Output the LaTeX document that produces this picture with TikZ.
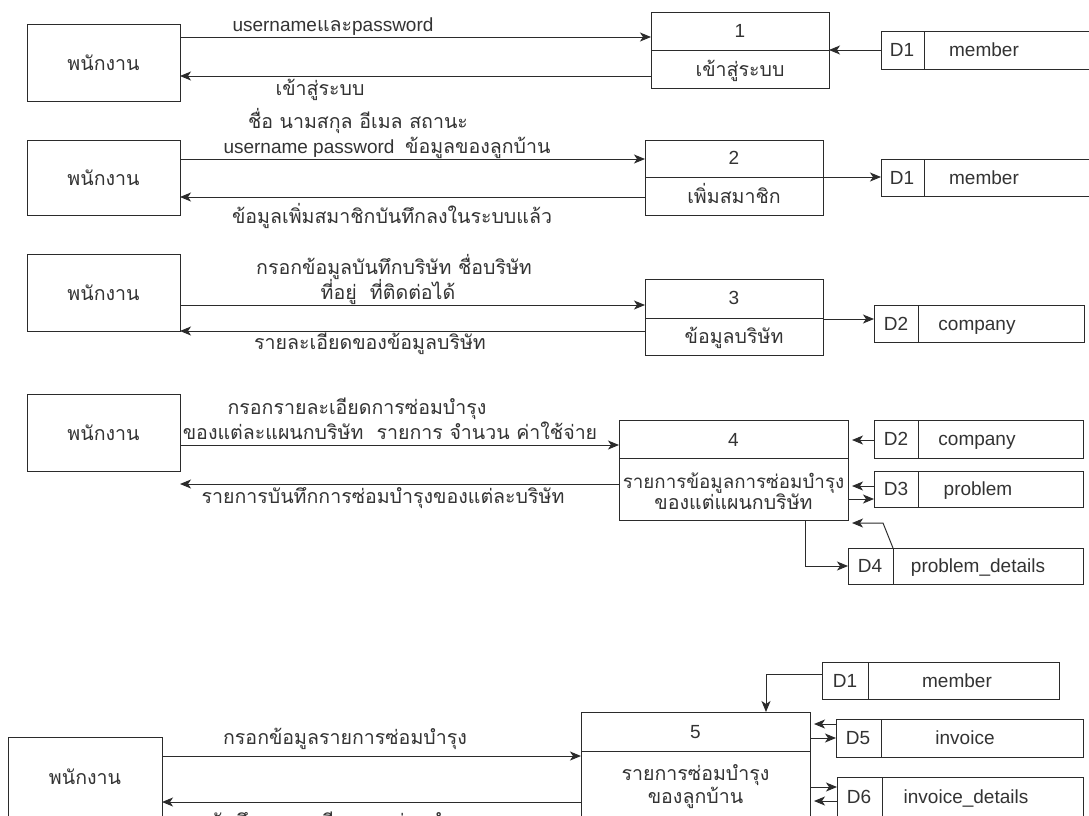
\documentclass[tikz,border=0pt]{standalone}
\usepackage{fontspec}
\setmainfont{Liberation Sans}
\newfontfamily\thf[Script=Thai,Scale=1.03]{Loma}
\usetikzlibrary{arrows.meta}
\definecolor{ln}{HTML}{2B2B2B}
\definecolor{tx}{HTML}{333333}
\tikzset{
  every node/.style={font=\fontsize{19}{23}\selectfont, text=tx, inner sep=0pt, outer sep=0pt},
  lbl/.style={text height=13.6pt, text depth=0pt},
  ent/.style={draw=ln, line width=1pt, minimum width=153pt, minimum height=77pt},
  proc/.style={draw=ln, line width=1pt},
  plain/.style={draw=ln, line width=1pt},
  flow/.style={draw=ln, line width=1pt, -{Stealth[length=11pt,width=9pt,inset=3pt]}},
}
\begin{document}
\begin{tikzpicture}[x=1pt,y=-1pt]
\useasboundingbox (0,0) rectangle (1089,815);
\fill[white] (0,0) rectangle (1089,815);

% ---------------- Section 1
\node[ent] (e1) at (103.5,62.5) {\thf พนักงาน};
\node[proc, minimum width=178pt, minimum height=76pt] (p1) at (740,50) {};
\draw[plain] (p1.west |- 0,50) -- (p1.east |- 0,50);
\node[lbl] (p1n) at (740,31) {1};
\node[lbl] (p1t) at (740,70) {\thf เข้าสู่ระบบ};
\node[proc, minimum width=219pt, minimum height=38pt] (s1) at (990.5,50) {};
\draw[plain] (924,0 |- s1.north) -- (924,0 |- s1.south);
\node[lbl] (s1d) at (902,50) {D1};
\node[lbl] (s1t) at (984,50) {member};
\draw[flow] (e1.east |- 0,37) -- (p1.west |- 0,37);
\draw[flow] (p1.west |- 0,76) -- (e1.east |- 0,76);
\draw[flow] (s1.west) -- (p1.east);
\node[lbl] (l1a) at (333,25) {username{\thf และ}password};
\node[lbl] (l1b) at (320,89) {\thf เข้าสู่ระบบ};

% ---------------- Section 2
\node[ent, minimum height=75pt] (e2) at (103.5,177.5) {\thf พนักงาน};
\node[proc, minimum width=178pt, minimum height=75pt] (p2) at (734,177.5) {};
\draw[plain] (p2.west |- 0,177) -- (p2.east |- 0,177);
\node[lbl] (p2n) at (734,158) {2};
\node[lbl] (p2t) at (734,197) {\thf เพิ่มสมาชิก};
\node[proc, minimum width=219pt, minimum height=37pt] (s2) at (990.5,177.5) {};
\draw[plain] (924,0 |- s2.north) -- (924,0 |- s2.south);
\node[lbl] (s2d) at (902,177.5) {D1};
\node[lbl] (s2t) at (984,177.5) {member};
\draw[flow] (e2.east |- 0,159) -- (p2.west |- 0,159);
\draw[flow] (p2.west |- 0,197) -- (e2.east |- 0,197);
\draw[flow] (p2.east |- 0,177) -- (s2.west |- 0,177);
\node[lbl] (l2a) at (358,122) {\thf ชื่อ นามสกุล อีเมล สถานะ};
\node[lbl] (l2b) at (387,147) {username password\ \ {\thf ข้อมูลของลูกบ้าน}};
\node[lbl] (l2c) at (392,217) {\thf ข้อมูลเพิ่มสมาชิกบันทึกลงในระบบแล้ว};

% ---------------- Section 3
\node[ent] (e3) at (103.5,292.5) {\thf พนักงาน};
\node[proc, minimum width=178pt, minimum height=76pt] (p3) at (734,317) {};
\draw[plain] (p3.west |- 0,318) -- (p3.east |- 0,318);
\node[lbl] (p3n) at (734,298) {3};
\node[lbl] (p3t) at (734,337) {\thf ข้อมูลบริษัท};
\node[proc, minimum width=210pt, minimum height=37pt] (s3) at (979,323.5) {};
\draw[plain] (918,0 |- s3.north) -- (918,0 |- s3.south);
\node[lbl] (s3d) at (896,323.5) {D2};
\node[lbl] (s3t) at (977,323.5) {company};
\draw[flow] (e3.east |- 0,305) -- (p3.west |- 0,305);
\draw[flow] (p3.west |- 0,331) -- (e3.east |- 0,331);
\draw[flow] (p3.east |- 0,319) -- (s3.west |- 0,319);
\node[lbl] (l3a) at (394,268) {\thf กรอกข้อมูลบันทึกบริษัท ชื่อบริษัท};
\node[lbl] (l3b) at (388,293) {\thf ที่อยู่\ \ ที่ติดต่อได้};
\node[lbl] (l3c) at (370,343) {\thf รายละเอียดของข้อมูลบริษัท};

% ---------------- Section 4
\node[ent] (e4) at (103.5,432.5) {\thf พนักงาน};
\node[proc, minimum width=229pt, minimum height=100pt] (p4) at (733.5,470) {};
\draw[plain] (p4.west |- 0,458) -- (p4.east |- 0,458);
\node[lbl] (p4n) at (733.5,440) {4};
\node[lbl, font=\fontsize{18.2}{22}\selectfont] (p4t) at (733.5,482) {\thf รายการข้อมูลการซ่อมบำรุง};
\node[lbl] (p4u) at (733.5,503) {\thf ของแต่แผนกบริษัท};
\node[proc, minimum width=209pt, minimum height=38pt] (s4a) at (978.5,439) {};
\draw[plain] (918,0 |- s4a.north) -- (918,0 |- s4a.south);
\node[lbl] (s4ad) at (896,439) {D2};
\node[lbl] (s4at) at (977,439) {company};
\node[proc, minimum width=209pt, minimum height=36pt] (s4b) at (978.5,489) {};
\draw[plain] (918,0 |- s4b.north) -- (918,0 |- s4b.south);
\node[lbl] (s4bd) at (896,489) {D3};
\node[lbl] (s4bt) at (978,489) {problem};
\node[proc, minimum width=235pt, minimum height=36pt] (s4c) at (965.5,566) {};
\draw[plain] (893,0 |- s4c.north) -- (893,0 |- s4c.south);
\node[lbl] (s4cd) at (870,566) {D4};
\node[lbl] (s4ct) at (978,566) {problem\_details};
\coordinate (p4r) at ([xshift=4pt]p4.east);
\draw[flow] (e4.east |- 0,445) -- (p4.west |- 0,445);
\draw[flow] (p4.west |- 0,484) -- (e4.east |- 0,484);
\draw[flow] (s4a.west |- 0,440) -- (p4r |- 0,440);
\draw[flow] (s4b.west |- 0,486) -- (p4r |- 0,486);
\draw[flow] (p4.east |- 0,499) -- (s4b.west |- 0,499);
\draw[flow] (805,0 |- p4.south) -- (805,566) -- (s4c.west);
\draw[flow] (893,0 |- s4c.north) -- (883,523) -- (p4r |- 0,523);
\node[lbl] (l4a) at (357,408) {\thf กรอกรายละเอียดการซ่อมบำรุง};
\node[lbl] (l4b) at (390,433) {\thf ของแต่ละแผนกบริษัท\ \ รายการ จำนวน ค่าใช้จ่าย};
\node[lbl] (l4c) at (383,497) {\thf รายการบันทึกการซ่อมบำรุงของแต่ละบริษัท};

% ---------------- Section 5
\node[ent, minimum width=154pt, minimum height=80pt] (e5) at (85,777) {\thf พนักงาน};
\node[proc, minimum width=229pt, minimum height=106pt] (p5) at (695.5,765) {};
\draw[plain] (p5.west |- 0,751) -- (p5.east |- 0,751);
\node[lbl] (p5n) at (695.5,732) {5};
\node[lbl] (p5t) at (695.5,774) {\thf รายการซ่อมบำรุง};
\node[lbl] (p5u) at (695.5,797) {\thf ของลูกบ้าน};
\node[proc, minimum width=237pt, minimum height=37pt] (s5a) at (940.5,680.5) {};
\draw[plain] (868,0 |- s5a.north) -- (868,0 |- s5a.south);
\node[lbl] (s5ad) at (845,680.5) {D1};
\node[lbl] (s5at) at (957,680.5) {member};
\node[proc, minimum width=247pt, minimum height=38pt] (s5b) at (959.5,738) {};
\draw[plain] (881,0 |- s5b.north) -- (881,0 |- s5b.south);
\node[lbl] (s5bd) at (858,738) {D5};
\node[lbl] (s5bt) at (965,738) {invoice};
\node[proc, minimum width=246pt, minimum height=39pt] (s5c) at (960,796.5) {};
\draw[plain] (882,0 |- s5c.north) -- (882,0 |- s5c.south);
\node[lbl] (s5cd) at (859,797) {D6};
\node[lbl] (s5ct) at (966,797) {invoice\_details};
\coordinate (p5r) at ([xshift=4pt]p5.east);
\draw[flow] (e5.east |- 0,756) -- (p5.west |- 0,756);
\draw[flow] (p5.west |- 0,802) -- (e5.east |- 0,802);
\draw[flow] (s5a.west |- 0,674) -- (766,674) -- (766,0 |- p5.north);
\draw[flow] (s5b.west |- 0,724) -- (p5r |- 0,724);
\draw[flow] (p5.east |- 0,738) -- (s5b.west |- 0,738);
\draw[flow] (p5.east |- 0,787) -- (s5c.west |- 0,787);
\draw[flow] (s5c.west |- 0,801) -- (p5r |- 0,801);
\node[lbl] (l5a) at (345,738) {\thf กรอกข้อมูลรายการซ่อมบำรุง};
\node[lbl] (l5b) at (341,822) {\thf บันทึกรายละเอียดการซ่อมบำรุง};
\end{tikzpicture}
\end{document}
